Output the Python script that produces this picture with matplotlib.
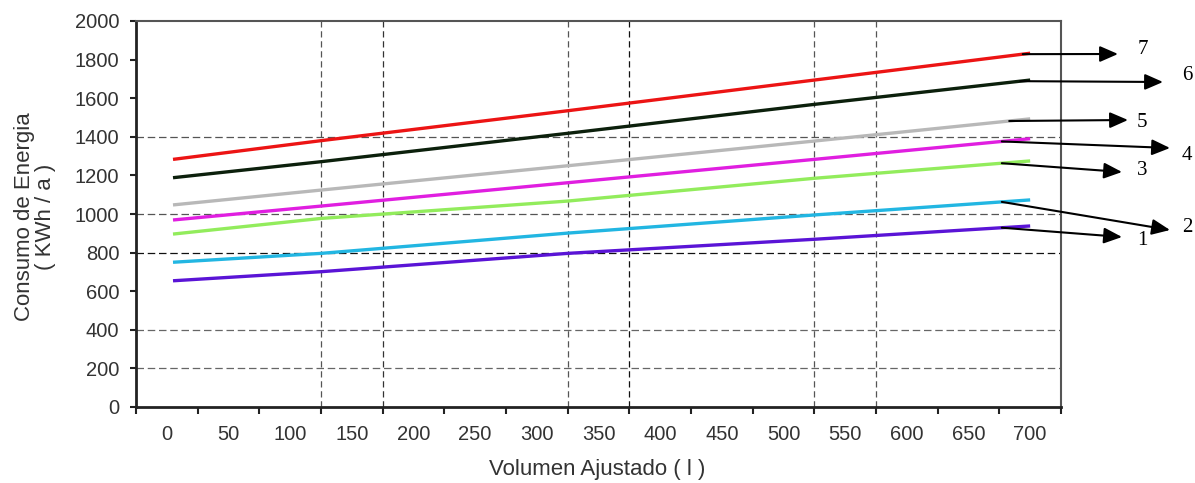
import matplotlib.pyplot as plt

# --- data ---
volumes = [5, 125, 325, 525, 700]          # litres
curve_1 = [654, 701, 796, 869, 938]
curve_2 = [750, 796, 901, 995, 1073]
curve_3 = [896, 977, 1067, 1185, 1275]
curve_4 = [969, 1041, 1162, 1283, 1390]
curve_5 = [1047, 1124, 1250, 1378, 1493]
curve_6 = [1188, 1271, 1418, 1568, 1694]
curve_7 = [1283, 1380, 1535, 1694, 1833]

series = [curve_1, curve_2, curve_3, curve_4, curve_5, curve_6, curve_7]
colors = ['#5a14d6', '#22b6e2', '#92ec5c', '#e01ee0', '#b8b8b8', '#0c200c', '#ec1414']
labels = ['1', '2', '3', '4', '5', '6', '7']

x_ticks = list(range(0, 701, 50))
y_ticks = list(range(0, 2001, 200))

# where each curve's pointer starts (volume) and where its arrow tip / number sit (pixels)
arrow_start_vol = [677, 677, 677, 677, 683, 692, 694]
arrow_tip_px = [(1122, 237), (1170, 230), (1122, 172), (1170, 148), (1128, 120), (1163, 82), (1118, 54)]
label_px = [(1137, 240), (1182, 228), (1137, 170), (1182, 155), (1137, 123), (1182, 75), (1138, 50)]

W, H = 1195, 483
fig = plt.figure(figsize=(W / 100, H / 100), dpi=100)
ax = fig.add_axes([136 / W, 1 - 407 / H, (1061 - 136) / W, (407 - 21) / H])

sans = 'Liberation Sans'
txt_col = '#333333'

# grid lines (only some, as in the original)
for y, c in [(200, '#666666'), (400, '#666666'), (800, '#111111'), (1000, '#555555'), (1400, '#555555')]:
    ax.axhline(y, color=c, lw=0.9, ls=(0, (6, 3)), zorder=1)
for xv, c in [(125, '#555555'), (175, '#333333'), (325, '#555555'), (375, '#111111'),
              (525, '#555555'), (575, '#555555')]:
    ax.axvline(xv, color=c, lw=0.9, ls=(0, (5, 3)), zorder=1)

for vals, col in zip(series, colors):
    ax.plot(volumes, vals, color=col, lw=2.4, solid_capstyle='butt', zorder=3)

ax.set_xlim(-25, 725)
ax.set_ylim(0, 2000)
ax.set_xticks(x_ticks)
ax.set_xticklabels([str(v) for v in x_ticks])
ax.set_xticks([v - 25 for v in x_ticks] + [725], minor=True)
ax.tick_params(axis='x', which='major', length=0, pad=13, labelsize=14.5, labelcolor=txt_col)
ax.tick_params(axis='x', which='minor', length=5, width=1.5, direction='out', color='#222222')
ax.set_yticks(y_ticks)
ax.tick_params(axis='y', length=4, width=1.5, direction='out', pad=8, labelsize=14.5,
               labelcolor=txt_col, color='#222222')
for lab in ax.get_xticklabels() + ax.get_yticklabels():
    lab.set_family(sans)

for side in ['left', 'bottom']:
    ax.spines[side].set_linewidth(2)
    ax.spines[side].set_color('#222222')
for side in ['top', 'right']:
    ax.spines[side].set_linewidth(1.5)
    ax.spines[side].set_color('#555555')

fig.text(597 / W, 1 - 470 / H, 'Volumen Ajustado ( l )', family=sans, fontsize=16,
         color=txt_col, ha='center', va='center')
fig.text(35 / W, 1 - 217 / H, 'Consumo de Energia\n( KWh / a )', family=sans, fontsize=16,
         color=txt_col, ha='center', va='center', rotation=90, linespacing=1.05)

# pointer arrows with curve numbers
for vals, sv, tip, lp, lab in zip(series, arrow_start_vol, arrow_tip_px, label_px, labels):
    start_y = vals[-2] + (vals[-1] - vals[-2]) * (sv - volumes[-2]) / (volumes[-1] - volumes[-2])
    ax.annotate('', xy=(tip[0] / W, 1 - tip[1] / H), xycoords='figure fraction',
                xytext=(sv, start_y), textcoords='data', annotation_clip=False,
                arrowprops=dict(arrowstyle='-|>,head_length=0.55,head_width=0.24', color='black',
                                lw=1.5, mutation_scale=20, shrinkA=0, shrinkB=0), zorder=5)
    fig.text(lp[0] / W, 1 - lp[1] / H, lab, family='Liberation Serif', fontsize=15,
             ha='left', va='center', color='black')

fig.savefig('out.png', dpi=100)
